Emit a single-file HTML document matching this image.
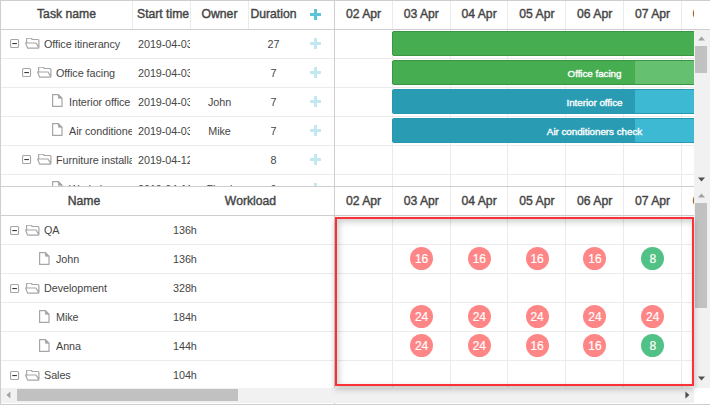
<!DOCTYPE html><html><head><meta charset="utf-8"><style>
*{margin:0;padding:0;box-sizing:border-box}
html,body{width:710px;height:405px;overflow:hidden;background:#fff}
body{position:relative;font-family:"Liberation Sans",sans-serif;color:#454545;font-size:10.8px;letter-spacing:-0.06px}
.a{position:absolute}
svg{display:block}
.t{white-space:nowrap;overflow:hidden}
.b{font-size:12.2px;letter-spacing:0;-webkit-text-stroke:0.4px #454545}
.c{text-align:center}
</style></head><body><div class="a " style="left:0px;top:0px;width:710px;height:1px;background:#cecece"></div>
<div class="a " style="left:0px;top:0px;width:1px;height:405px;background:#cecece"></div>
<div class="a " style="left:0px;top:404px;width:710px;height:1px;background:#cecece"></div>
<div class="a" style="left:0;top:0;width:710px;height:186px;overflow:hidden">
<div class="a " style="left:1px;top:29px;width:709px;height:1px;background:#cecece"></div>
<div class="a " style="left:132px;top:1px;width:1px;height:28px;background:#ebebeb"></div>
<div class="a " style="left:190px;top:1px;width:1px;height:28px;background:#ebebeb"></div>
<div class="a " style="left:248px;top:1px;width:1px;height:28px;background:#ebebeb"></div>
<div class="a t b c" style="left:1px;top:1px;width:131px;height:28px;line-height:26px">Task name</div>
<div class="a t b" style="left:133px;top:1px;width:57px;height:28px;line-height:26px;padding-left:4px">Start time</div>
<div class="a t b c" style="left:191px;top:1px;width:57px;height:28px;line-height:26px">Owner</div>
<div class="a t b c" style="left:248px;top:1px;width:51px;height:28px;line-height:26px">Duration</div>
<div class="a " style="left:310.0px;top:12.9px;width:11px;height:3.2px;background:#5ec4da"></div>
<div class="a " style="left:313.9px;top:9.0px;width:3.2px;height:11px;background:#5ec4da"></div>
<div class="a " style="left:334px;top:1px;width:1px;height:186px;background:#cecece"></div>
<div class="a " style="left:1px;top:58px;width:333px;height:1px;background:#ebebeb"></div>
<div class="a " style="left:10px;top:39px;width:10px;height:10px;"><svg width="10" height="10" viewBox="0 0 10 10"><rect x="0.55" y="0.55" width="8" height="8" rx="1" fill="#fff" stroke="#a6a6a6" stroke-width="1.1"/><rect x="2.3" y="4" width="4.6" height="1.1" fill="#3a3a3a"/></svg></div>
<div class="a " style="left:25px;top:38px;width:15px;height:12px;"><svg width="15" height="12" viewBox="0 0 15 12"><path d="M1.6 5 V1 Q1.6 0.2 2.4 0.2 H6 L7.4 1.5 H13 Q13.9 1.5 13.9 2.4 V9.2 Q13.9 10.1 13 10.1 H2.6 L0.6 5 H11 L13.9 9.6" fill="none" stroke="#a6a6a6" stroke-width="1.2" stroke-linejoin="round"/></svg></div>
<div class="a t" style="left:44px;top:30px;width:88px;height:28px;line-height:28px">Office itinerancy</div>
<div class="a t" style="left:138px;top:30px;width:52px;height:28px;line-height:28px">2019-04-03</div>
<div class="a t c" style="left:191px;top:30px;width:57px;height:28px;line-height:28px"></div>
<div class="a t c" style="left:249px;top:30px;width:49px;height:28px;line-height:28px">27</div>
<div class="a " style="left:310.0px;top:41.699999999999996px;width:11px;height:3.2px;background:#c3e8f0"></div>
<div class="a " style="left:313.9px;top:37.8px;width:3.2px;height:11px;background:#c3e8f0"></div>
<div class="a " style="left:1px;top:87px;width:333px;height:1px;background:#ebebeb"></div>
<div class="a " style="left:22px;top:68px;width:10px;height:10px;"><svg width="10" height="10" viewBox="0 0 10 10"><rect x="0.55" y="0.55" width="8" height="8" rx="1" fill="#fff" stroke="#a6a6a6" stroke-width="1.1"/><rect x="2.3" y="4" width="4.6" height="1.1" fill="#3a3a3a"/></svg></div>
<div class="a " style="left:37px;top:67px;width:15px;height:12px;"><svg width="15" height="12" viewBox="0 0 15 12"><path d="M1.6 5 V1 Q1.6 0.2 2.4 0.2 H6 L7.4 1.5 H13 Q13.9 1.5 13.9 2.4 V9.2 Q13.9 10.1 13 10.1 H2.6 L0.6 5 H11 L13.9 9.6" fill="none" stroke="#a6a6a6" stroke-width="1.2" stroke-linejoin="round"/></svg></div>
<div class="a t" style="left:56px;top:59px;width:76px;height:28px;line-height:28px">Office facing</div>
<div class="a t" style="left:138px;top:59px;width:52px;height:28px;line-height:28px">2019-04-03</div>
<div class="a t c" style="left:191px;top:59px;width:57px;height:28px;line-height:28px"></div>
<div class="a t c" style="left:249px;top:59px;width:49px;height:28px;line-height:28px">7</div>
<div class="a " style="left:310.0px;top:70.7px;width:11px;height:3.2px;background:#c3e8f0"></div>
<div class="a " style="left:313.9px;top:66.8px;width:3.2px;height:11px;background:#c3e8f0"></div>
<div class="a " style="left:1px;top:116px;width:333px;height:1px;background:#ebebeb"></div>
<div class="a " style="left:52px;top:94px;width:11px;height:14px;"><svg width="11" height="14" viewBox="0 0 11 14"><path d="M0.6 0.6 H6.4 L10 4.2 V12.4 H0.6 Z" fill="#fff" stroke="#a6a6a6" stroke-width="1.2" stroke-linejoin="round"/><path d="M6.4 0.6 V4.2 H10 Z" fill="#a6a6a6" stroke="#a6a6a6" stroke-width="0.8"/></svg></div>
<div class="a t" style="left:69px;top:88px;width:63px;height:28px;line-height:28px">Interior office</div>
<div class="a t" style="left:138px;top:88px;width:52px;height:28px;line-height:28px">2019-04-03</div>
<div class="a t c" style="left:191px;top:88px;width:57px;height:28px;line-height:28px">John</div>
<div class="a t c" style="left:249px;top:88px;width:49px;height:28px;line-height:28px">7</div>
<div class="a " style="left:310.0px;top:99.7px;width:11px;height:3.2px;background:#c3e8f0"></div>
<div class="a " style="left:313.9px;top:95.8px;width:3.2px;height:11px;background:#c3e8f0"></div>
<div class="a " style="left:1px;top:145px;width:333px;height:1px;background:#ebebeb"></div>
<div class="a " style="left:52px;top:123px;width:11px;height:14px;"><svg width="11" height="14" viewBox="0 0 11 14"><path d="M0.6 0.6 H6.4 L10 4.2 V12.4 H0.6 Z" fill="#fff" stroke="#a6a6a6" stroke-width="1.2" stroke-linejoin="round"/><path d="M6.4 0.6 V4.2 H10 Z" fill="#a6a6a6" stroke="#a6a6a6" stroke-width="0.8"/></svg></div>
<div class="a t" style="left:69px;top:117px;width:63px;height:28px;line-height:28px">Air conditioners check</div>
<div class="a t" style="left:138px;top:117px;width:52px;height:28px;line-height:28px">2019-04-03</div>
<div class="a t c" style="left:191px;top:117px;width:57px;height:28px;line-height:28px">Mike</div>
<div class="a t c" style="left:249px;top:117px;width:49px;height:28px;line-height:28px">7</div>
<div class="a " style="left:310.0px;top:128.70000000000002px;width:11px;height:3.2px;background:#c3e8f0"></div>
<div class="a " style="left:313.9px;top:124.80000000000001px;width:3.2px;height:11px;background:#c3e8f0"></div>
<div class="a " style="left:1px;top:174px;width:333px;height:1px;background:#ebebeb"></div>
<div class="a " style="left:22px;top:155px;width:10px;height:10px;"><svg width="10" height="10" viewBox="0 0 10 10"><rect x="0.55" y="0.55" width="8" height="8" rx="1" fill="#fff" stroke="#a6a6a6" stroke-width="1.1"/><rect x="2.3" y="4" width="4.6" height="1.1" fill="#3a3a3a"/></svg></div>
<div class="a " style="left:37px;top:154px;width:15px;height:12px;"><svg width="15" height="12" viewBox="0 0 15 12"><path d="M1.6 5 V1 Q1.6 0.2 2.4 0.2 H6 L7.4 1.5 H13 Q13.9 1.5 13.9 2.4 V9.2 Q13.9 10.1 13 10.1 H2.6 L0.6 5 H11 L13.9 9.6" fill="none" stroke="#a6a6a6" stroke-width="1.2" stroke-linejoin="round"/></svg></div>
<div class="a t" style="left:56px;top:146px;width:76px;height:28px;line-height:28px">Furniture installation</div>
<div class="a t" style="left:138px;top:146px;width:52px;height:28px;line-height:28px">2019-04-12</div>
<div class="a t c" style="left:191px;top:146px;width:57px;height:28px;line-height:28px"></div>
<div class="a t c" style="left:249px;top:146px;width:49px;height:28px;line-height:28px">8</div>
<div class="a " style="left:310.0px;top:157.70000000000002px;width:11px;height:3.2px;background:#c3e8f0"></div>
<div class="a " style="left:313.9px;top:153.8px;width:3.2px;height:11px;background:#c3e8f0"></div>
<div class="a " style="left:1px;top:203px;width:333px;height:1px;background:#ebebeb"></div>
<div class="a " style="left:52px;top:181px;width:11px;height:14px;"><svg width="11" height="14" viewBox="0 0 11 14"><path d="M0.6 0.6 H6.4 L10 4.2 V12.4 H0.6 Z" fill="#fff" stroke="#a6a6a6" stroke-width="1.2" stroke-linejoin="round"/><path d="M6.4 0.6 V4.2 H10 Z" fill="#a6a6a6" stroke="#a6a6a6" stroke-width="0.8"/></svg></div>
<div class="a t" style="left:69px;top:175px;width:63px;height:28px;line-height:28px">Workplaces preparation</div>
<div class="a t" style="left:138px;top:175px;width:52px;height:28px;line-height:28px">2019-04-16</div>
<div class="a t c" style="left:191px;top:175px;width:57px;height:28px;line-height:28px">Floyd</div>
<div class="a t c" style="left:249px;top:175px;width:49px;height:28px;line-height:28px">9</div>
<div class="a " style="left:310.0px;top:186.70000000000002px;width:11px;height:3.2px;background:#c3e8f0"></div>
<div class="a " style="left:313.9px;top:182.8px;width:3.2px;height:11px;background:#c3e8f0"></div>
<div class="a t b c" style="left:335.0px;top:1px;width:57px;height:28px;line-height:26px">02 Apr</div>
<div class="a t b c" style="left:392.8px;top:1px;width:57px;height:28px;line-height:26px">03 Apr</div>
<div class="a t b c" style="left:450.6px;top:1px;width:57px;height:28px;line-height:26px">04 Apr</div>
<div class="a t b c" style="left:508.4px;top:1px;width:57px;height:28px;line-height:26px">05 Apr</div>
<div class="a t b c" style="left:566.2px;top:1px;width:57px;height:28px;line-height:26px">06 Apr</div>
<div class="a t b c" style="left:624.0px;top:1px;width:57px;height:28px;line-height:26px">07 Apr</div>
<div class="a t b c" style="left:681.8px;top:1px;width:57px;height:28px;line-height:26px">08 Apr</div>
<div class="a " style="left:391.8px;top:1px;width:1px;height:28px;background:#ebebeb"></div>
<div class="a " style="left:449.6px;top:1px;width:1px;height:28px;background:#ebebeb"></div>
<div class="a " style="left:507.4px;top:1px;width:1px;height:28px;background:#ebebeb"></div>
<div class="a " style="left:565.2px;top:1px;width:1px;height:28px;background:#ebebeb"></div>
<div class="a " style="left:623.0px;top:1px;width:1px;height:28px;background:#ebebeb"></div>
<div class="a " style="left:680.8px;top:1px;width:1px;height:28px;background:#ebebeb"></div>
<div class="a " style="left:694px;top:1px;width:16px;height:28px;background:#fff"></div>
<div class="a " style="left:391.8px;top:30px;width:1px;height:156px;background:#ebebeb"></div>
<div class="a " style="left:449.6px;top:30px;width:1px;height:156px;background:#ebebeb"></div>
<div class="a " style="left:507.4px;top:30px;width:1px;height:156px;background:#ebebeb"></div>
<div class="a " style="left:565.2px;top:30px;width:1px;height:156px;background:#ebebeb"></div>
<div class="a " style="left:623.0px;top:30px;width:1px;height:156px;background:#ebebeb"></div>
<div class="a " style="left:680.8px;top:30px;width:1px;height:156px;background:#ebebeb"></div>
<div class="a " style="left:335px;top:58px;width:359px;height:1px;background:#ebebeb"></div>
<div class="a " style="left:335px;top:87px;width:359px;height:1px;background:#ebebeb"></div>
<div class="a " style="left:335px;top:116px;width:359px;height:1px;background:#ebebeb"></div>
<div class="a " style="left:335px;top:145px;width:359px;height:1px;background:#ebebeb"></div>
<div class="a " style="left:335px;top:174px;width:359px;height:1px;background:#ebebeb"></div>
<div class="a " style="left:335px;top:203px;width:359px;height:1px;background:#ebebeb"></div>
<div class="a " style="left:392px;top:31px;width:1560px;height:25px;background:#46ad51;border:1px solid #3c9445;border-radius:2px;overflow:hidden"><div class="a" style="left:0;top:0;width:1560px;height:100%;background:#46ad51"></div></div>
<div class="a " style="left:392px;top:60px;width:405px;height:25px;background:#65c16f;border:1px solid #3c9445;border-radius:2px;overflow:hidden"><div class="a" style="left:0;top:0;width:242px;height:100%;background:#46ad51"></div><div class="a t" style="left:0;top:0;width:100%;height:100%;line-height:25px;text-align:center;color:#fff;font-size:9.9px;-webkit-text-stroke:0.35px #fff">Office facing</div></div>
<div class="a " style="left:392px;top:89px;width:405px;height:25px;background:#3db9d3;border:1px solid #2898b0;border-radius:2px;overflow:hidden"><div class="a" style="left:0;top:0;width:242px;height:100%;background:#299cb4"></div><div class="a t" style="left:0;top:0;width:100%;height:100%;line-height:25px;text-align:center;color:#fff;font-size:9.9px;-webkit-text-stroke:0.35px #fff">Interior office</div></div>
<div class="a " style="left:392px;top:118px;width:405px;height:25px;background:#3db9d3;border:1px solid #2898b0;border-radius:2px;overflow:hidden"><div class="a" style="left:0;top:0;width:242px;height:100%;background:#299cb4"></div><div class="a t" style="left:0;top:0;width:100%;height:100%;line-height:25px;text-align:center;color:#fff;font-size:9.9px;-webkit-text-stroke:0.35px #fff">Air conditioners check</div></div>
</div>
<div class="a " style="left:694px;top:30px;width:16px;height:157px;background:#f1f1f1"></div>
<div class="a " style="left:695px;top:46px;width:12px;height:27px;background:#c1c1c1"></div>
<div class="a " style="left:1px;top:186px;width:693px;height:1px;background:#cecece"></div>
<div class="a " style="left:1px;top:215px;width:693px;height:1px;background:#cecece"></div>
<div class="a " style="left:334px;top:187px;width:1px;height:218px;background:#cecece"></div>
<div class="a t b c" style="left:1px;top:187px;width:166px;height:28px;line-height:28px">Name</div>
<div class="a t b c" style="left:167px;top:187px;width:167px;height:28px;line-height:28px">Workload</div>
<div class="a t b c" style="left:335.0px;top:187px;width:57px;height:28px;line-height:28px">02 Apr</div>
<div class="a t b c" style="left:392.8px;top:187px;width:57px;height:28px;line-height:28px">03 Apr</div>
<div class="a t b c" style="left:450.6px;top:187px;width:57px;height:28px;line-height:28px">04 Apr</div>
<div class="a t b c" style="left:508.4px;top:187px;width:57px;height:28px;line-height:28px">05 Apr</div>
<div class="a t b c" style="left:566.2px;top:187px;width:57px;height:28px;line-height:28px">06 Apr</div>
<div class="a t b c" style="left:624.0px;top:187px;width:57px;height:28px;line-height:28px">07 Apr</div>
<div class="a t b c" style="left:681.8px;top:187px;width:57px;height:28px;line-height:28px">08 Apr</div>
<div class="a " style="left:694px;top:187px;width:16px;height:28px;background:#fff"></div>
<div class="a " style="left:391.8px;top:187px;width:1px;height:28px;background:#ebebeb"></div>
<div class="a " style="left:391.8px;top:216px;width:1px;height:172px;background:#ebebeb"></div>
<div class="a " style="left:449.6px;top:187px;width:1px;height:28px;background:#ebebeb"></div>
<div class="a " style="left:449.6px;top:216px;width:1px;height:172px;background:#ebebeb"></div>
<div class="a " style="left:507.4px;top:187px;width:1px;height:28px;background:#ebebeb"></div>
<div class="a " style="left:507.4px;top:216px;width:1px;height:172px;background:#ebebeb"></div>
<div class="a " style="left:565.2px;top:187px;width:1px;height:28px;background:#ebebeb"></div>
<div class="a " style="left:565.2px;top:216px;width:1px;height:172px;background:#ebebeb"></div>
<div class="a " style="left:623.0px;top:187px;width:1px;height:28px;background:#ebebeb"></div>
<div class="a " style="left:623.0px;top:216px;width:1px;height:172px;background:#ebebeb"></div>
<div class="a " style="left:680.8px;top:187px;width:1px;height:28px;background:#ebebeb"></div>
<div class="a " style="left:680.8px;top:216px;width:1px;height:172px;background:#ebebeb"></div>
<div class="a " style="left:1px;top:244px;width:333px;height:1px;background:#ebebeb"></div>
<div class="a " style="left:335px;top:244px;width:359px;height:1px;background:#ebebeb"></div>
<div class="a " style="left:10px;top:226px;width:10px;height:10px;"><svg width="10" height="10" viewBox="0 0 10 10"><rect x="0.55" y="0.55" width="8" height="8" rx="1" fill="#fff" stroke="#a6a6a6" stroke-width="1.1"/><rect x="2.3" y="4" width="4.6" height="1.1" fill="#3a3a3a"/></svg></div>
<div class="a " style="left:25px;top:225px;width:15px;height:12px;"><svg width="15" height="12" viewBox="0 0 15 12"><path d="M1.6 5 V1 Q1.6 0.2 2.4 0.2 H6 L7.4 1.5 H13 Q13.9 1.5 13.9 2.4 V9.2 Q13.9 10.1 13 10.1 H2.6 L0.6 5 H11 L13.9 9.6" fill="none" stroke="#a6a6a6" stroke-width="1.2" stroke-linejoin="round"/></svg></div>
<div class="a t" style="left:44px;top:216px;width:120px;height:28px;line-height:28px">QA</div>
<div class="a t" style="left:173px;top:216px;width:60px;height:28px;line-height:28px">136h</div>
<div class="a " style="left:1px;top:273px;width:333px;height:1px;background:#ebebeb"></div>
<div class="a " style="left:335px;top:273px;width:359px;height:1px;background:#ebebeb"></div>
<div class="a " style="left:39px;top:252px;width:11px;height:14px;"><svg width="11" height="14" viewBox="0 0 11 14"><path d="M0.6 0.6 H6.4 L10 4.2 V12.4 H0.6 Z" fill="#fff" stroke="#a6a6a6" stroke-width="1.2" stroke-linejoin="round"/><path d="M6.4 0.6 V4.2 H10 Z" fill="#a6a6a6" stroke="#a6a6a6" stroke-width="0.8"/></svg></div>
<div class="a t" style="left:56px;top:245px;width:120px;height:28px;line-height:28px">John</div>
<div class="a t" style="left:173px;top:245px;width:60px;height:28px;line-height:28px">136h</div>
<div class="a " style="left:410.0px;top:247.2px;width:23px;height:23px;background:#ff8686;border-radius:50%;color:#fff;text-align:center;line-height:24.5px;font-size:12px;-webkit-text-stroke:0.2px #fff">16</div>
<div class="a " style="left:467.8px;top:247.2px;width:23px;height:23px;background:#ff8686;border-radius:50%;color:#fff;text-align:center;line-height:24.5px;font-size:12px;-webkit-text-stroke:0.2px #fff">16</div>
<div class="a " style="left:525.6px;top:247.2px;width:23px;height:23px;background:#ff8686;border-radius:50%;color:#fff;text-align:center;line-height:24.5px;font-size:12px;-webkit-text-stroke:0.2px #fff">16</div>
<div class="a " style="left:583.4000000000001px;top:247.2px;width:23px;height:23px;background:#ff8686;border-radius:50%;color:#fff;text-align:center;line-height:24.5px;font-size:12px;-webkit-text-stroke:0.2px #fff">16</div>
<div class="a " style="left:641.2px;top:247.2px;width:23px;height:23px;background:#51c185;border-radius:50%;color:#fff;text-align:center;line-height:24.5px;font-size:12px;-webkit-text-stroke:0.2px #fff">8</div>
<div class="a " style="left:1px;top:302px;width:333px;height:1px;background:#ebebeb"></div>
<div class="a " style="left:335px;top:302px;width:359px;height:1px;background:#ebebeb"></div>
<div class="a " style="left:10px;top:284px;width:10px;height:10px;"><svg width="10" height="10" viewBox="0 0 10 10"><rect x="0.55" y="0.55" width="8" height="8" rx="1" fill="#fff" stroke="#a6a6a6" stroke-width="1.1"/><rect x="2.3" y="4" width="4.6" height="1.1" fill="#3a3a3a"/></svg></div>
<div class="a " style="left:25px;top:283px;width:15px;height:12px;"><svg width="15" height="12" viewBox="0 0 15 12"><path d="M1.6 5 V1 Q1.6 0.2 2.4 0.2 H6 L7.4 1.5 H13 Q13.9 1.5 13.9 2.4 V9.2 Q13.9 10.1 13 10.1 H2.6 L0.6 5 H11 L13.9 9.6" fill="none" stroke="#a6a6a6" stroke-width="1.2" stroke-linejoin="round"/></svg></div>
<div class="a t" style="left:44px;top:274px;width:120px;height:28px;line-height:28px">Development</div>
<div class="a t" style="left:173px;top:274px;width:60px;height:28px;line-height:28px">328h</div>
<div class="a " style="left:1px;top:331px;width:333px;height:1px;background:#ebebeb"></div>
<div class="a " style="left:335px;top:331px;width:359px;height:1px;background:#ebebeb"></div>
<div class="a " style="left:39px;top:310px;width:11px;height:14px;"><svg width="11" height="14" viewBox="0 0 11 14"><path d="M0.6 0.6 H6.4 L10 4.2 V12.4 H0.6 Z" fill="#fff" stroke="#a6a6a6" stroke-width="1.2" stroke-linejoin="round"/><path d="M6.4 0.6 V4.2 H10 Z" fill="#a6a6a6" stroke="#a6a6a6" stroke-width="0.8"/></svg></div>
<div class="a t" style="left:56px;top:303px;width:120px;height:28px;line-height:28px">Mike</div>
<div class="a t" style="left:173px;top:303px;width:60px;height:28px;line-height:28px">184h</div>
<div class="a " style="left:410.0px;top:305.2px;width:23px;height:23px;background:#ff8686;border-radius:50%;color:#fff;text-align:center;line-height:24.5px;font-size:12px;-webkit-text-stroke:0.2px #fff">24</div>
<div class="a " style="left:467.8px;top:305.2px;width:23px;height:23px;background:#ff8686;border-radius:50%;color:#fff;text-align:center;line-height:24.5px;font-size:12px;-webkit-text-stroke:0.2px #fff">24</div>
<div class="a " style="left:525.6px;top:305.2px;width:23px;height:23px;background:#ff8686;border-radius:50%;color:#fff;text-align:center;line-height:24.5px;font-size:12px;-webkit-text-stroke:0.2px #fff">24</div>
<div class="a " style="left:583.4000000000001px;top:305.2px;width:23px;height:23px;background:#ff8686;border-radius:50%;color:#fff;text-align:center;line-height:24.5px;font-size:12px;-webkit-text-stroke:0.2px #fff">24</div>
<div class="a " style="left:641.2px;top:305.2px;width:23px;height:23px;background:#ff8686;border-radius:50%;color:#fff;text-align:center;line-height:24.5px;font-size:12px;-webkit-text-stroke:0.2px #fff">24</div>
<div class="a " style="left:1px;top:360px;width:333px;height:1px;background:#ebebeb"></div>
<div class="a " style="left:335px;top:360px;width:359px;height:1px;background:#ebebeb"></div>
<div class="a " style="left:39px;top:339px;width:11px;height:14px;"><svg width="11" height="14" viewBox="0 0 11 14"><path d="M0.6 0.6 H6.4 L10 4.2 V12.4 H0.6 Z" fill="#fff" stroke="#a6a6a6" stroke-width="1.2" stroke-linejoin="round"/><path d="M6.4 0.6 V4.2 H10 Z" fill="#a6a6a6" stroke="#a6a6a6" stroke-width="0.8"/></svg></div>
<div class="a t" style="left:56px;top:332px;width:120px;height:28px;line-height:28px">Anna</div>
<div class="a t" style="left:173px;top:332px;width:60px;height:28px;line-height:28px">144h</div>
<div class="a " style="left:410.0px;top:334.2px;width:23px;height:23px;background:#ff8686;border-radius:50%;color:#fff;text-align:center;line-height:24.5px;font-size:12px;-webkit-text-stroke:0.2px #fff">24</div>
<div class="a " style="left:467.8px;top:334.2px;width:23px;height:23px;background:#ff8686;border-radius:50%;color:#fff;text-align:center;line-height:24.5px;font-size:12px;-webkit-text-stroke:0.2px #fff">24</div>
<div class="a " style="left:525.6px;top:334.2px;width:23px;height:23px;background:#ff8686;border-radius:50%;color:#fff;text-align:center;line-height:24.5px;font-size:12px;-webkit-text-stroke:0.2px #fff">16</div>
<div class="a " style="left:583.4000000000001px;top:334.2px;width:23px;height:23px;background:#ff8686;border-radius:50%;color:#fff;text-align:center;line-height:24.5px;font-size:12px;-webkit-text-stroke:0.2px #fff">16</div>
<div class="a " style="left:641.2px;top:334.2px;width:23px;height:23px;background:#51c185;border-radius:50%;color:#fff;text-align:center;line-height:24.5px;font-size:12px;-webkit-text-stroke:0.2px #fff">8</div>
<div class="a " style="left:1px;top:389px;width:333px;height:1px;background:#ebebeb"></div>
<div class="a " style="left:335px;top:389px;width:359px;height:1px;background:#ebebeb"></div>
<div class="a " style="left:10px;top:371px;width:10px;height:10px;"><svg width="10" height="10" viewBox="0 0 10 10"><rect x="0.55" y="0.55" width="8" height="8" rx="1" fill="#fff" stroke="#a6a6a6" stroke-width="1.1"/><rect x="2.3" y="4" width="4.6" height="1.1" fill="#3a3a3a"/></svg></div>
<div class="a " style="left:25px;top:370px;width:15px;height:12px;"><svg width="15" height="12" viewBox="0 0 15 12"><path d="M1.6 5 V1 Q1.6 0.2 2.4 0.2 H6 L7.4 1.5 H13 Q13.9 1.5 13.9 2.4 V9.2 Q13.9 10.1 13 10.1 H2.6 L0.6 5 H11 L13.9 9.6" fill="none" stroke="#a6a6a6" stroke-width="1.2" stroke-linejoin="round"/></svg></div>
<div class="a t" style="left:44px;top:361px;width:120px;height:28px;line-height:28px">Sales</div>
<div class="a t" style="left:173px;top:361px;width:60px;height:28px;line-height:28px">104h</div>
<div class="a " style="left:694px;top:187px;width:16px;height:201px;background:#f1f1f1"></div>
<div class="a " style="left:695px;top:203px;width:12px;height:105px;background:#c1c1c1"></div>
<div class="a " style="left:1px;top:388px;width:693px;height:15px;background:#f1f1f1"></div>
<div class="a " style="left:17px;top:389px;width:221px;height:12px;background:#c1c1c1"></div>
<div class="a " style="left:698px;top:36px;width:7px;height:5px;"><svg width="7" height="5"><polygon points="3.5,0.6 7,4.6 0,4.6" fill="#a3a3a3"/></svg></div>
<div class="a " style="left:698px;top:177px;width:7px;height:5px;"><svg width="7" height="5"><polygon points="0,0.4 7,0.4 3.5,4.4" fill="#505050"/></svg></div>
<div class="a " style="left:698px;top:193px;width:7px;height:5px;"><svg width="7" height="5"><polygon points="3.5,0.6 7,4.6 0,4.6" fill="#a3a3a3"/></svg></div>
<div class="a " style="left:698px;top:376px;width:7px;height:5px;"><svg width="7" height="5"><polygon points="0,0.4 7,0.4 3.5,4.4" fill="#505050"/></svg></div>
<div class="a " style="left:6px;top:391px;width:5px;height:8px;"><svg width="5" height="8"><polygon points="0.4,4 4.4,0.5 4.4,7.5" fill="#a3a3a3"/></svg></div>
<div class="a " style="left:685px;top:391px;width:5px;height:8px;"><svg width="5" height="8"><polygon points="0.4,0.5 4.4,4 0.4,7.5" fill="#505050"/></svg></div>
<div class="a " style="left:335px;top:217px;width:359px;height:169px;border:2px solid #fc3038;box-shadow:inset 2px 3px 6px rgba(0,0,0,0.2), 0 3px 6px rgba(0,0,0,0.24)"></div></body></html>
